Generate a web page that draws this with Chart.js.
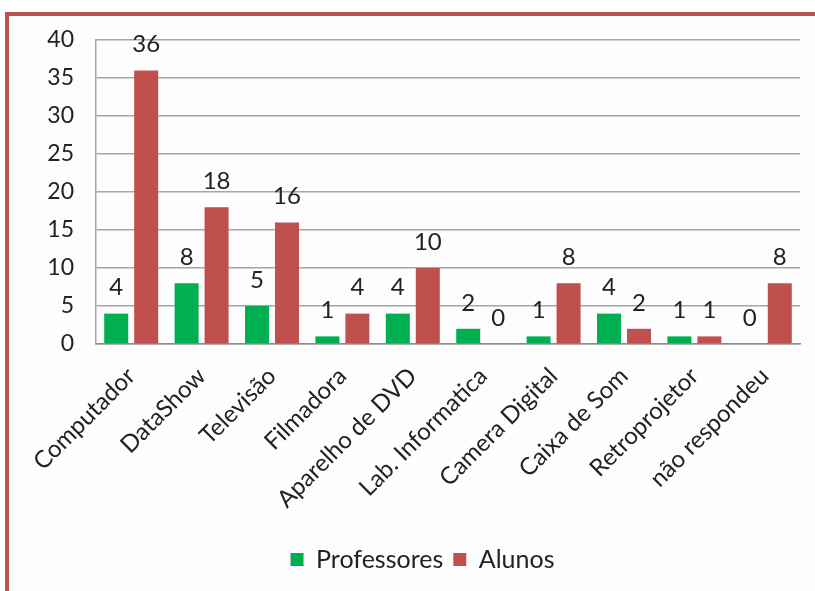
<!DOCTYPE html>
<html>
<head>
<meta charset="utf-8">
<script src="https://cdn.jsdelivr.net/npm/chart.js@4"></script>
<style>
  html, body { margin: 0; padding: 0; background: #fff; }
  #frame {
    position: absolute; left: 5px; top: 12px;
    width: 810px; height: 579px;
    border-left: 4px solid #c0504d; border-top: 4px solid #c0504d;
    background: #fdfdfd;
  }
  #chart { display: block; }
</style>
</head>
<body>
<div id="frame">
  <canvas id="chart" width="806" height="575"></canvas>
</div>
<script>
const categories = [
  "Computador", "DataShow", "Televisão", "Filmadora", "Aparelho de DVD",
  "Lab. Informatica", "Camera Digital", "Caixa de Som", "Retroprojetor", "não respondeu"
];
const professores = [4, 8, 5, 1, 4, 2, 1, 4, 1, 0];
const alunos = [36, 18, 16, 4, 10, 0, 8, 2, 1, 8];
const yTicks = [0, 5, 10, 15, 20, 25, 30, 35, 40];

const FONT = "Lato, 'Open Sans', sans-serif";

// draws the value above each bar
const valueLabels = {
  id: "valueLabels",
  afterDatasetsDraw(chart) {
    const ctx = chart.ctx;
    ctx.save();
    ctx.font = "24px " + FONT;
    ctx.fillStyle = "#222";
    ctx.textAlign = "center";
    ctx.textBaseline = "middle";
    chart.data.datasets.forEach((ds, i) => {
      chart.getDatasetMeta(i).data.forEach((bar, j) => {
        ctx.fillText(String(ds.data[j]), bar.x, bar.y - 26);
      });
    });
    ctx.restore();
  }
};

// nudge the legend a bit to the right, like the original
const legendShift = {
  id: "legendShift",
  afterLayout(chart) {
    if (chart.legend) {
      chart.legend.left += 18;
      chart.legend.right += 18;
    }
  }
};

new Chart(document.getElementById("chart"), {
  type: "bar",
  data: {
    labels: categories,
    datasets: [
      { label: "Professores", data: professores, backgroundColor: "#00b050",
        barPercentage: 0.8, categoryPercentage: 0.852 },
      { label: "Alunos", data: alunos, backgroundColor: "#c0504d",
        barPercentage: 0.8, categoryPercentage: 0.852 }
    ]
  },
  options: {
    responsive: false,
    animation: false,
    layout: { padding: { left: 0, right: 15, top: 24, bottom: 9 } },
    plugins: {
      legend: {
        position: "bottom",
        labels: {
          font: { family: FONT, size: 25 },
          color: "#222",
          boxWidth: 13,
          boxHeight: 13,
          padding: 10
        }
      },
      tooltip: { enabled: false }
    },
    scales: {
      x: {
        grid: { display: false, drawTicks: false },
        border: { color: "#8c8c8c", width: 1.5 },
        ticks: {
          font: { family: FONT, size: 24 },
          color: "#222",
          minRotation: 45,
          maxRotation: 45,
          autoSkip: false,
          padding: 18
        },
        afterFit(scale) { scale.height = 193; }
      },
      y: {
        min: 0,
        max: 40,
        afterBuildTicks(scale) { scale.ticks = yTicks.map(v => ({ value: v })); },
        grid: { color: "#a6a6a6", lineWidth: 1.5, drawTicks: false },
        border: { color: "#a6a6a6", width: 1.5 },
        ticks: {
          font: { family: FONT, size: 23 },
          color: "#222",
          padding: 22
        },
        afterFit(scale) {
          scale.width = 87;
          scale.paddingTop = 0;
          scale.paddingBottom = 0;
        }
      }
    }
  },
  plugins: [valueLabels, legendShift]
});
</script>
</body>
</html>
